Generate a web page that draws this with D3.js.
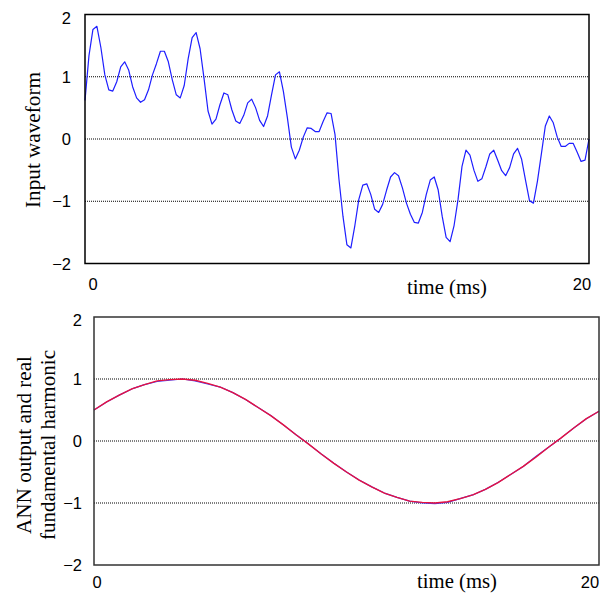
<!DOCTYPE html>
<html>
<head>
<meta charset="utf-8">
<script src="https://cdn.jsdelivr.net/npm/d3@7"></script>
<style>
  body { margin: 0; background: #fff; }
  svg { display: block; }
</style>
</head>
<body>
<svg id="chart" width="615" height="593"></svg>
<script>
// ---- data ----
const yTickValues = [2, 1, 0, -1, -2];
const gridValues = [1, 0, -1];
const xTickLabels = ["0", "20"];
const timeDomain = [0, 20];          // ms

// sampled input waveform (128 samples across 20 ms)
const inputStep = 20 / 127;
const inputWave = [
  0.62, 1.34, 1.76, 1.81, 1.47, 1.03, 0.79, 0.77, 0.92, 1.16,
  1.24, 1.11, 0.84, 0.66, 0.59, 0.63, 0.79, 1.03, 1.21, 1.41,
  1.41, 1.24, 0.95, 0.71, 0.66, 0.86, 1.29, 1.63, 1.71, 1.45,
  0.97, 0.45, 0.24, 0.32, 0.55, 0.74, 0.71, 0.47, 0.29, 0.25,
  0.38, 0.58, 0.64, 0.50, 0.30, 0.20, 0.37, 0.71, 1.03, 1.08,
  0.76, 0.34, -0.13, -0.32, -0.18, 0.03, 0.18, 0.17, 0.12, 0.12,
  0.28, 0.42, 0.41, 0.07, -0.65, -1.24, -1.70, -1.75, -1.39, -0.97,
  -0.74, -0.72, -0.89, -1.13, -1.18, -1.05, -0.82, -0.61, -0.54, -0.59,
  -0.79, -1.03, -1.21, -1.34, -1.35, -1.18, -0.89, -0.66, -0.61, -0.82,
  -1.24, -1.58, -1.65, -1.39, -0.97, -0.44, -0.18, -0.26, -0.50, -0.68,
  -0.64, -0.45, -0.24, -0.18, -0.34, -0.51, -0.59, -0.46, -0.24, -0.15,
  -0.32, -0.66, -0.99, -1.03, -0.68, -0.24, 0.21, 0.37, 0.26, 0.03,
  -0.12, -0.12, -0.07, -0.07, -0.21, -0.36, -0.34, 0.00
];

// fundamental harmonic, one value every 0.5 ms
const harmStep = 0.5;
const realHarmonic = [
  0.50, 0.63, 0.74, 0.84, 0.91, 0.97, 0.99, 1.00, 0.98, 0.93,
  0.87, 0.78, 0.67, 0.54, 0.41, 0.26, 0.10, -0.05, -0.21, -0.36,
  -0.50, -0.63, -0.74, -0.84, -0.91, -0.97, -0.99, -1.00, -0.98, -0.93,
  -0.87, -0.78, -0.67, -0.54, -0.41, -0.26, -0.10, 0.05, 0.21, 0.36,
  0.48
];
const annOutput = [
  0.50, 0.63, 0.74, 0.84, 0.91, 0.96, 0.98, 1.00, 0.97, 0.92,
  0.87, 0.78, 0.67, 0.54, 0.41, 0.26, 0.10, -0.05, -0.21, -0.36,
  -0.50, -0.63, -0.74, -0.84, -0.91, -0.97, -1.00, -1.01, -0.99, -0.93,
  -0.87, -0.78, -0.67, -0.54, -0.41, -0.25, -0.10, 0.05, 0.21, 0.36,
  0.48
];

// ---- drawing ----
const svg = d3.select("#chart");
const sansFont = "'Liberation Sans', Arial, sans-serif";
const serifFont = "'Liberation Serif', 'Times New Roman', serif";

// set a title's font size so that its natural width fills the wanted length
function fitText(sel, length, base) {
  sel.attr("font-size", base);
  const w = sel.node().getComputedTextLength();
  sel.attr("font-size", (base * length / w).toFixed(2));
}

function drawPanel(cfg) {
  const x = d3.scaleLinear().domain(timeDomain).range([cfg.left, cfg.right]);
  const y = d3.scaleLinear().domain([-2, 2]).range([cfg.bottom, cfg.top]);
  const g = svg.append("g");

  // dotted gridlines
  g.selectAll("line.grid").data(gridValues).join("line")
    .attr("class", "grid")
    .attr("x1", cfg.left).attr("x2", cfg.right)
    .attr("y1", d => y(d)).attr("y2", d => y(d))
    .attr("stroke", "#000").attr("stroke-width", 1)
    .attr("stroke-dasharray", "1,1");

  // y tick labels
  g.selectAll("text.ytick").data(yTickValues).join("text")
    .attr("class", "ytick")
    .attr("x", cfg.tickRight)
    .attr("y", d => y(d) + (d === 2 ? 3 : 0))
    .attr("text-anchor", "end")
    .attr("dominant-baseline", "central")
    .attr("font-family", sansFont).attr("font-size", 16.5)
    .attr("fill", "#000")
    .text(d => d < 0 ? "\u2212" + Math.abs(d) : String(d));

  // x tick labels at the ends of the time range
  g.selectAll("text.xtick").data(xTickLabels).join("text")
    .attr("class", "xtick")
    .attr("x", (d, i) => x(timeDomain[i]) + cfg.xLabelShift[i])
    .attr("y", cfg.xLabelY)
    .attr("text-anchor", "middle")
    .attr("font-family", sansFont).attr("font-size", 16.5)
    .attr("fill", "#000")
    .text(d => d);

  // x axis title
  const tt = g.append("text")
    .attr("x", cfg.timeTitleX).attr("y", cfg.timeTitleY)
    .attr("text-anchor", "middle")
    .attr("font-family", serifFont)
    .text("time (ms)");
  fitText(tt, 80, 18);

  // y axis title (one or more lines)
  cfg.yTitle.forEach((line, i) => {
    const t = g.append("text")
      .attr("transform", `translate(${cfg.yTitleX[i]},${cfg.yTitleCenter}) rotate(-90)`)
      .attr("text-anchor", "middle")
      .attr("font-family", serifFont)
      .text(line);
    fitText(t, cfg.yTitleLength[i], 18);
  });

  // series
  cfg.series.forEach(s => {
    const line = d3.line()
      .x((d, i) => x(i * s.step))
      .y(d => y(d));
    g.append("path")
      .datum(s.values)
      .attr("d", line)
      .attr("fill", "none")
      .attr("stroke", s.color)
      .attr("stroke-width", s.width)
      .attr("stroke-linejoin", "round");
  });

  // plot frame
  g.append("rect")
    .attr("x", cfg.left).attr("y", cfg.top)
    .attr("width", cfg.right - cfg.left).attr("height", cfg.bottom - cfg.top)
    .attr("fill", "none").attr("stroke", cfg.frameColor).attr("stroke-width", 1.5);
}

drawPanel({
  left: 85, right: 589, top: 14.5, bottom: 263.5,
  tickRight: 71,
  xLabelY: 290, xLabelShift: [8, -7],
  timeTitleX: 447, timeTitleY: 294,
  yTitle: ["Input waveform"], yTitleX: [40], yTitleCenter: 140,
  yTitleLength: [136],
  frameColor: "#000",
  series: [{ values: inputWave, step: inputStep, color: "#1e1eff", width: 1.2 }]
});

drawPanel({
  left: 94, right: 599, top: 317, bottom: 565,
  tickRight: 82,
  xLabelY: 588, xLabelShift: [3, -9],
  timeTitleX: 457, timeTitleY: 588,
  yTitle: ["ANN output and real", "fundamental harmonic"], yTitleX: [31, 55], yTitleCenter: 445,
  yTitleLength: [178, 190],
  frameColor: "#333",
  series: [
    { values: annOutput, step: harmStep, color: "#4040ff", width: 1.2 },
    { values: realHarmonic, step: harmStep, color: "#e6123f", width: 1.4 }
  ]
});
</script>
</body>
</html>
